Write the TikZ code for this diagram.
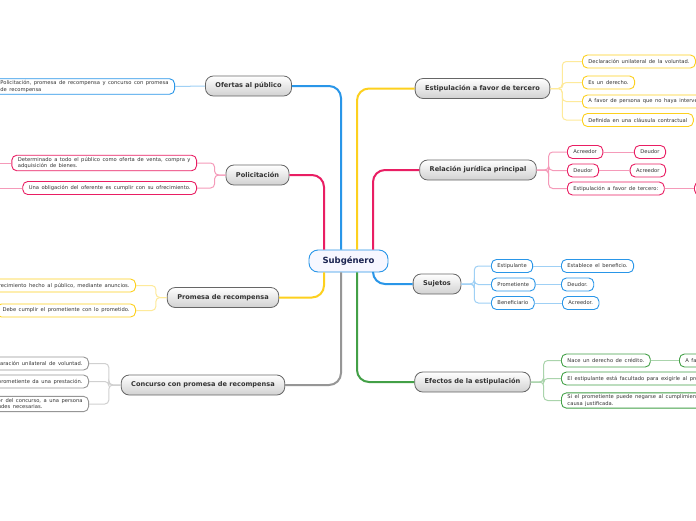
\documentclass[tikz,border=0pt]{standalone}
\usepackage{fontspec}
\setmainfont{DejaVu Sans}
\newfontfamily\leaffont{DejaVu Sans}[WordSpace=1.5]
\usetikzlibrary{positioning}
\definecolor{mmblue}{RGB}{41,150,232}
\definecolor{mmpink}{RGB}{233,30,99}
\definecolor{mmyellow}{RGB}{253,208,30}
\definecolor{mmgray}{RGB}{150,150,150}
\definecolor{mmgreen}{RGB}{67,160,71}
\definecolor{mmnavy}{RGB}{26,35,80}

\begin{document}
\begin{tikzpicture}[
  x=1pt, y=-1pt,
  center/.style={draw=mmblue, line width=0.9pt, rounded corners=9pt, fill=blue!3, text=mmnavy, font=\fontsize{8.5}{10}\selectfont\bfseries, minimum width=79pt, minimum height=22pt},
  topic/.style={draw=black!60, line width=0.8pt, rounded corners=8pt, top color=white, bottom color=black!18, text=black!80, font=\fontsize{6.6}{7.5}\selectfont\bfseries, minimum height=20pt, inner xsep=10pt},
  leaf/.style={draw=#1, line width=0.9pt, rounded corners=5pt, fill=white, text=black!80, font=\leaffont\fontsize{5.2}{6.3}\selectfont, minimum height=13pt, inner xsep=6pt, inner ysep=2pt, align=left},
  trunk/.style={draw=#1, line width=2pt, rounded corners=12pt},
  twig/.style={draw=#1!45, line width=1pt, rounded corners=4pt}
]
\useasboundingbox (0,0) rectangle (696,520);
\clip (0,0) rectangle (696,520);
\fill[white] (0,0) rectangle (696,520);

\node[center] (sub) at (348.5,261) {Subgénero};

% left branches
\node[topic] (ofe) at (248.5,86) {Ofertas al público};
\node[topic] (pol) at (257.5,175) {Policitación};
\node[topic] (pro) at (223,297.5) {Promesa de recompensa};
\node[topic] (con) at (203,385) {Concurso con promesa de recompensa};

% right branches
\node[topic] (est) at (482.5,88.5) {Estipulación a favor de tercero};
\node[topic] (rel) at (478,170) {Relación jurídica principal};
\node[topic] (suj) at (437,284) {Sujetos};
\node[topic] (efe) at (472.5,382) {Efectos de la estipulación};

\node[leaf=mmblue, anchor=east] (ofe1) at (175,86.5) {Policitación, promesa de recompensa y concurso con promesa\\de recompensa};

\node[leaf=mmpink, anchor=east] (pol1) at (197,163) {Determinado a todo el público como oferta de venta, compra y\\adquisición de bienes.};
\node[leaf=mmpink, anchor=east] (pol2) at (197,188) {Una obligación del oferente es cumplir con su ofrecimiento.};
\coordinate (pol1x) at (-10,163);
\coordinate (pol2x) at (-10,188);

\node[leaf=mmyellow, anchor=east] (pro1) at (136,285.5) {Ofrecimiento hecho al público, mediante anuncios.};
\node[leaf=mmyellow, anchor=east] (pro2) at (136,310.5) {Debe cumplir el prometiente con lo prometido.};

\node[leaf=mmgray, anchor=east] (con1) at (89,363.5) {Declaración unilateral de voluntad.};
\node[leaf=mmgray, anchor=east] (con2) at (89,381.5) {El prometiente da una prestación.};
\node[leaf=mmgray, anchor=east] (con3) at (89,404) {Al ganador del concurso, a una persona\\con aptitudes necesarias.};

\node[leaf=mmyellow, anchor=west] (est1) at (582,61.5) {Declaración unilateral de la voluntad.};
\node[leaf=mmyellow, anchor=west] (est2) at (582,82.5) {Es un derecho.};
\node[leaf=mmyellow, anchor=west] (est3) at (582,101.5) {A favor de persona que no haya intervenido.};
\node[leaf=mmyellow, anchor=west] (est4) at (582,120) {Definida en una cláusula contractual};

\node[leaf=mmpink, anchor=west] (rel1) at (567,152) {Acreedor};
\node[leaf=mmpink, anchor=west] (rel2) at (567,170.5) {Deudor};
\node[leaf=mmpink, anchor=west] (rel3) at (567,188.5) {Estipulación a favor de tercero:};
\node[leaf=mmpink, anchor=east] (rel1a) at (666,152) {Deudor};
\node[leaf=mmpink, anchor=east] (rel2a) at (666,170.5) {Acreedor};
\node[leaf=mmpink, anchor=west, minimum width=40pt] (rel3a) at (694,188.5) {};

\node[leaf=mmblue, anchor=west] (suj1) at (491,266) {Estipulante};
\node[leaf=mmblue, anchor=west] (suj2) at (491,284.5) {Prometiente};
\node[leaf=mmblue, anchor=west] (suj3) at (491,303) {Beneficiario};
\node[leaf=mmblue, anchor=west] (suj1a) at (561,266) {Establece el beneficio.};
\node[leaf=mmblue, anchor=west] (suj2a) at (561,284.5) {Deudor.};
\node[leaf=mmblue, anchor=west] (suj3a) at (562,303) {Acreedor.};

\node[leaf=mmgreen, anchor=west] (efe1) at (561,360.5) {Nace un derecho de crédito.};
\node[leaf=mmgreen, anchor=west] (efe2) at (561,378.5) {El estipulante está facultado para exigirle al prometiente el cumplimiento.};
\node[leaf=mmgreen, anchor=west] (efe3) at (561,400.5) {Si el prometiente puede negarse al cumplimiento con una\\causa justificada.};
\node[leaf=mmgreen, anchor=west] (efe1a) at (679,360.5) {A favor del tercero.};

% trunks from the central topic
\draw[trunk=mmblue] ([xshift=-7.5]sub.north) |- (ofe.east);
\draw[trunk=mmpink] ([xshift=-24.5]sub.north) |- (pol.east);
\draw[trunk=mmyellow] ([xshift=8.5]sub.north) |- (est.west);
\draw[trunk=mmpink] ([xshift=24.5]sub.north) |- (rel.west);
\draw[trunk=mmyellow] ([xshift=-24.5]sub.south) |- (pro.east);
\draw[trunk=mmgray] ([xshift=-7.5]sub.south) |- (con.east);
\draw[trunk=mmgreen] ([xshift=8.5]sub.south) |- (efe.west);
\draw[trunk=mmblue] ([xshift=24.5]sub.south) |- (suj.west);

% twigs to the leaves
\draw[twig=mmblue] (ofe.west) -- (ofe1.east);
\foreach \x in {pol1,pol2} \draw[twig=mmpink] (pol.west) -- ++(-11,0) |- (\x.east);
\draw[twig=mmpink] (pol1.west) -- (pol1x);
\draw[twig=mmpink] (pol2.west) -- (pol2x);
\foreach \x in {pro1,pro2} \draw[twig=mmyellow] (pro.west) -- ++(-11,0) |- (\x.east);
\foreach \x in {con1,con2,con3} \draw[twig=mmgray] (con.west) -- ++(-12,0) |- (\x.east);
\foreach \x in {est1,est2,est3,est4} \draw[twig=mmyellow] (est.east) -- ++(12,0) |- (\x.west);
\foreach \x in {rel1,rel2,rel3} \draw[twig=mmpink] (rel.east) -- ++(12,0) |- (\x.west);
\foreach \x in {suj1,suj2,suj3} \draw[twig=mmblue] (suj.east) -- ++(13,0) |- (\x.west);
\foreach \x in {efe1,efe2,efe3} \draw[twig=mmgreen] (efe.east) -- ++(13,0) |- (\x.west);
\foreach \x in {rel1,rel2,rel3} \draw[twig=mmpink] (\x.east) -- (\x a.west);
\foreach \x in {suj1,suj2,suj3} \draw[twig=mmblue] (\x.east) -- (\x a.west);
\draw[twig=mmgreen] (efe1.east) -- (efe1a.west);
\end{tikzpicture}
\end{document}
